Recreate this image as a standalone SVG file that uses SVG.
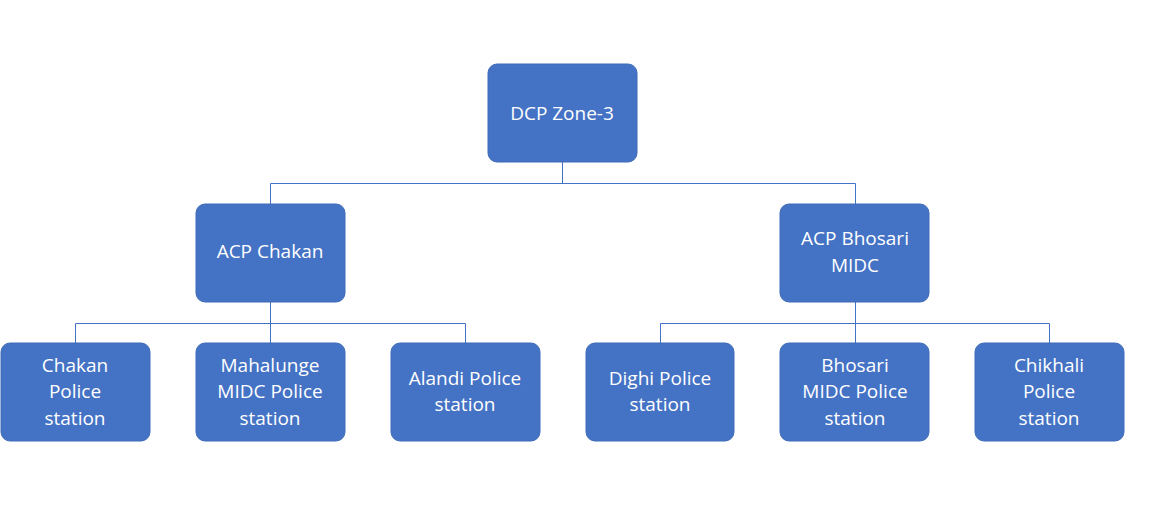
<svg xmlns="http://www.w3.org/2000/svg" width="1152" height="515" viewBox="0 0 1152 515">
<style>
.n rect{fill:#4472C4;stroke:#3F6BB8;stroke-width:1}
.n text{fill:#fff;font-family:"Open Sans","Liberation Sans",sans-serif;font-size:19px;text-anchor:middle}
.c path{fill:none;stroke:#4472C4;stroke-width:1}
</style>
<rect width="1152" height="515" fill="#fff"/>
<g class="c">
<path d="M562.5 162V183.5M270.5 183.5H855.5M270.5 183.5V204M855.5 183.5V204"/>
<path d="M270.5 302V323.5M75.5 323.5H465.5M75.5 323.5V343M270.5 323.5V343M465.5 323.5V343"/>
<path d="M855.5 302V323.5M660.5 323.5H1049.5M660.5 323.5V343M855.5 323.5V343M1049.5 323.5V343"/>
</g>
<g id="root" class="n"><rect x="488" y="64" width="149" height="98" rx="9"/><text x="562" y="120">DCP Zone-3</text></g>
<g id="acp1" class="n"><rect x="196" y="204" width="149" height="98" rx="9"/><text x="270" y="258">ACP Chakan</text></g>
<g id="acp2" class="n"><rect x="780" y="204" width="149" height="98" rx="9"/><text x="855" y="245">ACP Bhosari</text><text x="855" y="272">MIDC</text></g>
<g id="l1" class="n"><rect x="1" y="343" width="149" height="98" rx="9"/><text x="75" y="372">Chakan</text><text x="75" y="398">Police</text><text x="75" y="425">station</text></g>
<g id="l2" class="n"><rect x="196" y="343" width="149" height="98" rx="9"/><text x="270" y="372">Mahalunge</text><text x="270" y="398">MIDC Police</text><text x="270" y="425">station</text></g>
<g id="l3" class="n"><rect x="391" y="343" width="149" height="98" rx="9"/><text x="465" y="385">Alandi Police</text><text x="465" y="411">station</text></g>
<g id="l4" class="n"><rect x="586" y="343" width="148" height="98" rx="9"/><text x="660" y="385">Dighi Police</text><text x="660" y="411">station</text></g>
<g id="l5" class="n"><rect x="780" y="343" width="149" height="98" rx="9"/><text x="855" y="372">Bhosari</text><text x="855" y="398">MIDC Police</text><text x="855" y="425">station</text></g>
<g id="l6" class="n"><rect x="975" y="343" width="149" height="98" rx="9"/><text x="1049" y="372">Chikhali</text><text x="1049" y="398">Police</text><text x="1049" y="425">station</text></g>
</svg>
